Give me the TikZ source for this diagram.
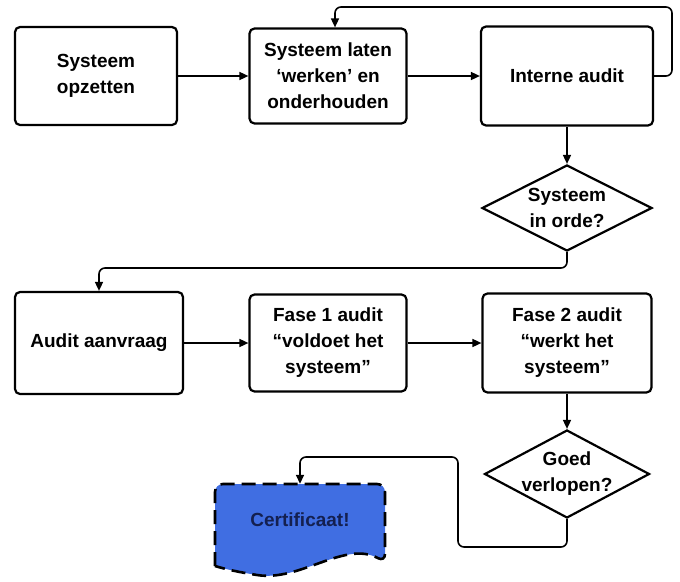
\documentclass[tikz,border=0pt]{standalone}
\usepackage{fontspec}
\setmainfont{Liberation Sans}
\usepackage{xcolor}
\usetikzlibrary{arrows.meta,shapes,calc}
\definecolor{certblue}{RGB}{64,110,226}
\definecolor{certtext}{RGB}{20,32,80}
\begin{document}
\begin{tikzpicture}[x=1pt,y=-1pt]
            \tikzset{box/.style = {draw, line width=2.2pt, rounded corners=5pt, align=center, font=\bfseries\fontsize{19}{26}\selectfont, inner sep=2pt}}
            \tikzset{ruit/.style = {draw, diamond, line width=2.2pt, shape aspect=2, inner sep=-5pt, align=center, font=\bfseries\fontsize{19}{26}\selectfont}}
            \tikzset{edge/.style = {line width=1.6pt, rounded corners=6pt, -{Triangle[length=9pt,width=8pt]}}}
            \useasboundingbox (0,0) rectangle (680,581);

            % vertices
            \node[box, minimum width=162pt, minimum height=98pt] (opzetten) at (96,76) {Systeem\\opzetten};
            \node[box, minimum width=157pt, minimum height=95pt] (laten) at (328,76) {Systeem laten\\`werken' en\\onderhouden};
            \node[box, minimum width=172pt, minimum height=99pt] (intern) at (567,76) {Interne audit};
            \node[ruit, minimum width=170pt, minimum height=86pt] (orde) at (567,208) {Systeem\\in orde?};
            \node[box, minimum width=168pt, minimum height=102pt] (aanvraag) at (99,343) {Audit aanvraag};
            \node[box, minimum width=157pt, minimum height=97pt] (fase1) at (328,343) {Fase 1 audit\\``voldoet het\\systeem''};
            \node[box, minimum width=169pt, minimum height=99pt] (fase2) at (567,343) {Fase 2 audit\\``werkt het\\systeem''};
            \node[ruit, minimum width=165pt, minimum height=88pt] (goed) at (567,474) {Goed\\verlopen?};

            % certificate
            \fill[certblue, rounded corners=8pt] (215,566) -- (215,484) -- (385,484) -- (385,562) [sharp corners]
              .. controls (345,540) and (300,582) .. (257,575) .. controls (238,572) and (225,569) .. (215,566);
            \draw[line width=2.6pt, dash pattern=on 14pt off 7pt, rounded corners=8pt] (215,566) -- (215,484) -- (385,484) -- (385,562) [sharp corners]
              .. controls (345,540) and (300,582) .. (257,575) .. controls (238,572) and (225,569) .. (215,566);
            \node[minimum width=170pt, minimum height=88pt, text=certtext, font=\bfseries\fontsize{19}{26}\selectfont] (cert) at (300,520) {Certificaat!};

            % bends
            \coordinate (terug) at (672,7);
            \coordinate (k1) at (567,268);
            \coordinate (k2) at (567,547);
            \coordinate (k3) at (458,457);

            % edges
            \foreach \a/\b in {opzetten/laten,laten/intern,aanvraag/fase1,fase1/fase2,intern/orde,fase2/goed}
            {\draw[edge] (\a) -- (\b);}
            \draw[edge] (intern.east) -| (terug) -| ([xshift=7pt]laten.north);
            \draw[edge] (orde.south) -- (k1) -| (aanvraag.north);
            \draw[edge] (goed.south) -- (k2) -| (k3) -| ([yshift=-8pt]cert.north);

          \end{tikzpicture}
\end{document}
